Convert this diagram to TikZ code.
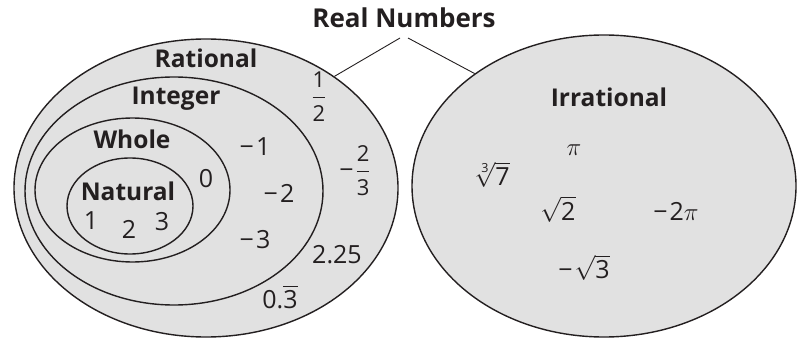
\documentclass[tikz,border=0pt]{standalone}
\usepackage{amsmath}
\usepackage{fontspec}
\setmainfont{Open Sans}
\usepackage{tikz}
\usetikzlibrary{shapes.geometric}
\usepackage{xcolor}
\definecolor{setgray}{RGB}{225,225,225}
\definecolor{ink}{RGB}{35,31,32}
\newcommand{\fracdigit}[1]{\text{\fontsize{22}{22}\selectfont #1}}
\newcommand{\mns}{−\kern2pt}

\begin{document}
\begin{tikzpicture}[
    x=1pt, y=-1pt,
    font=\fontsize{25}{30}\selectfont,
    text=ink,
    set/.style={draw=ink, ellipse, line width=1.4pt, fill=setgray,
                inner sep=0pt},
    setname/.style={anchor=base, font=\fontsize{24.5}{30}\selectfont\bfseries},
    num/.style={anchor=base, inner sep=0pt},
    link/.style={draw=ink, line width=0.9pt}
]
\useasboundingbox (0,0) rectangle (799,339);

% --- Rational side ---
\node[set, minimum width=384pt, minimum height=298pt] (rational) at (206,188) {};
\node[set, minimum width=298pt, minimum height=228pt] (integer) at (174,191) {};
\node[set, minimum width=195pt, minimum height=144pt] (whole) at (132.5,190) {};
\node[set, minimum width=126pt, minimum height=96pt] (natural) at (130,206) {};

\node[setname] (ratlbl) at (206,68) {Rational};
\node[setname] (intlbl) at (176,105) {Integer};
\node[setname] (whlbl) at (132,149) {Whole};
\node[setname] (natlbl) at (128,200) {Natural};

\node[num] (one) at (91,229) {1};
\node[num] (two) at (129,238) {2};
\node[num] (three) at (162,230) {3};
\node[num] (zero) at (206,187) {0};
\node[num] (mone) at (255,155) {\mns 1};
\node[num] (mtwo) at (279,202) {\mns 2};
\node[num] (mthree) at (255,248) {\mns 3};
\node[num] (half) at (319,104) {$\dfrac{\fracdigit{1}}{\fracdigit{2}}$};
\node[num] (mtwothirds) at (355,178) {\mns$\dfrac{\fracdigit{2}}{\fracdigit{3}}$};
\node[num] (dec) at (337,263) {2.25};
\node[num] (rep) at (280,308) {0.$\overline{\text{3}}$};

% --- Irrational side ---
\node[set, minimum width=384pt, minimum height=302pt] (irrational) at (604,186) {};
\node[setname] (irrlbl) at (609,107) {Irrational};

\node[num] (pi) at (574,155) {$\pi$};
\node[num] (cbrt) at (492,185) {$\sqrt[\text{3}]{\text{7}}$};
\node[num] (sqtwo) at (558,220) {$\sqrt{\text{2}}$};
\node[num] (mtwopi) at (676,220) {\mns 2$\pi$};
\node[num] (msqthree) at (584,278) {\mns$\sqrt{\text{3}}$};

% --- Title ---
\node[setname, font=\fontsize{26}{30}\selectfont\bfseries] (title) at (404,28) {Real Numbers};
\coordinate (tleft) at (400,38);
\coordinate (tright) at (408,38);
\draw[link] (tleft) -- (rational.41);
\draw[link] (tright) -- (irrational.139);

\end{tikzpicture}
\end{document}
